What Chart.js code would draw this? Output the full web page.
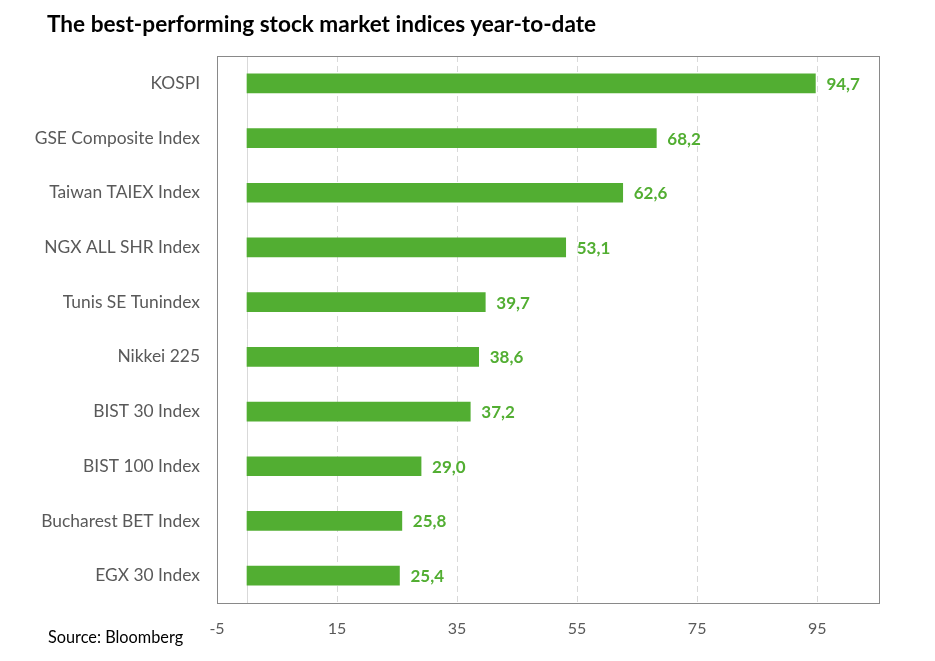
<!DOCTYPE html>
<html>
<head>
<meta charset="utf-8">
<script src="https://cdn.jsdelivr.net/npm/chart.js@4.4.0/dist/chart.umd.min.js"></script>
<style>
  body { margin: 0; background: #fff; }
  #wrap { position: relative; width: 935px; height: 661px; }
  #title { position: absolute; left: 47px; top: 10px; font: bold 22.6px Lato, sans-serif; color: #000; }
  #source { position: absolute; left: 48px; top: 627px; font: 16.3px Lato, sans-serif; color: #000; }
  canvas { position: absolute; left: 0; top: 0; }
</style>
</head>
<body>
<div id="wrap">
  <canvas id="myChart" width="935" height="661"></canvas>
  <div id="title">The best-performing stock market indices year-to-date</div>
  <div id="source">Source: Bloomberg</div>
</div>
<script>
const labels = ['KOSPI', 'GSE Composite Index', 'Taiwan TAIEX Index', 'NGX ALL SHR Index',
  'Tunis SE Tunindex', 'Nikkei 225', 'BIST 30 Index', 'BIST 100 Index',
  'Bucharest BET Index', 'EGX 30 Index']
const values = [94.7, 68.2, 62.6, 53.1, 39.7, 38.6, 37.2, 29.0, 25.8, 25.4]
const tickValues = [-5, 15, 35, 55, 75, 95]

const green = '#52ae32'
const grey = '#595959'

// zero line + value labels
const extras = {
  id: 'extras',
  beforeDatasetsDraw(chart) {
    const c = chart.ctx
    const x = chart.scales.x.getPixelForValue(0)
    const a = chart.chartArea
    c.save()
    c.strokeStyle = '#d9d9d9'
    c.lineWidth = 1
    c.beginPath()
    c.moveTo(Math.round(x) + 0.5, a.top)
    c.lineTo(Math.round(x) + 0.5, a.bottom)
    c.stroke()
    c.restore()
  },
  afterDatasetsDraw(chart) {
    const c = chart.ctx
    const meta = chart.getDatasetMeta(0)
    c.save()
    c.font = 'bold 17px Lato, sans-serif'
    c.fillStyle = green
    c.textBaseline = 'middle'
    meta.data.forEach((bar, i) => {
      c.fillText(values[i].toFixed(1).replace('.', ','), bar.x + 11, bar.y + 1)
    })
    c.restore()
  }
}

const ctx = document.getElementById('myChart').getContext('2d')
new Chart(ctx, {
  type: 'bar',
  data: {
    labels: labels,
    datasets: [{
      data: values,
      backgroundColor: green,
      barThickness: 19
    }]
  },
  options: {
    indexAxis: 'y',
    responsive: false,
    animation: false,
    layout: { padding: { top: 56, right: 56, left: 0, bottom: 0 } },
    plugins: { legend: { display: false }, tooltip: { enabled: false } },
    scales: {
      x: {
        min: -5,
        max: 105.3,
        afterBuildTicks: s => { s.ticks = tickValues.map(v => ({ value: v })) },
        afterFit: s => { s.height = 58 },
        grid: {
          color: c => c.tick && c.tick.value === -5 ? 'rgba(0,0,0,0)' : '#d9d9d9',
          drawTicks: false
        },
        border: { display: true, color: '#898989', width: 1, dash: [6, 4] },
        ticks: { color: grey, font: { family: 'Lato', size: 16 }, padding: 16 }
      },
      y: {
        afterFit: s => { s.width = 217 },
        grid: { display: false, drawTicks: false },
        border: { display: true, color: '#898989', width: 1 },
        ticks: { color: grey, font: { family: 'Lato', size: 17.4 }, padding: 17 }
      }
    }
  },
  plugins: [extras, {
    id: 'box',
    afterDraw(chart) {
      const a = chart.chartArea
      const c = chart.ctx
      c.save()
      c.strokeStyle = '#898989'
      c.lineWidth = 1
      c.strokeRect(Math.round(a.left) + 0.5, Math.round(a.top) + 0.5, Math.round(a.right - a.left), Math.round(a.bottom - a.top))
      c.restore()
    }
  }]
})
</script>
</body>
</html>
